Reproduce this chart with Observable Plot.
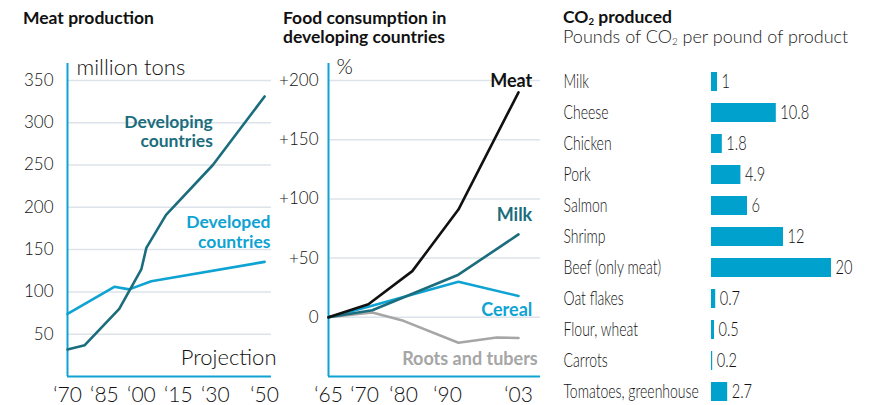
<!DOCTYPE html>
<html><head><meta charset="utf-8">
<script src="https://cdn.jsdelivr.net/npm/d3@7"></script>
<script src="https://cdn.jsdelivr.net/npm/@observablehq/plot@0.6"></script>
<style>
body{margin:0;background:#fff;}
#root{position:relative;width:872px;height:405px;overflow:hidden;font-family:Lato,"Open Sans",sans-serif;color:#111;}
.title{position:absolute;font-weight:700;font-size:17.5px;line-height:19px;white-space:nowrap;}
.sub{position:absolute;font-weight:300;font-size:18px;line-height:18px;white-space:nowrap;color:#222;}
.title sub,.sub sub{font-size:0.55em;vertical-align:-0.25em;line-height:0;}
</style></head><body><div id="root">
<div class="title" style="left:23px;top:8px;">Meat production</div>
<div class="title" style="left:283px;top:8px;">Food consumption in<br>developing countries</div>
<div class="title" style="left:563px;top:7px;">CO<sub>2</sub> produced</div>
<div class="sub" style="left:563px;top:27px;">Pounds of CO<sub>2</sub> per pound of product</div>
</div>
<script>
// ---- Panel 1: Meat production (million tons)
const developingYears = [1970, 1977, 1991, 2000, 2002, 2010, 2029, 2050];
const developingValues = [32, 37, 80, 127, 152, 191, 250, 331];
const developedYears = [1970, 1989, 1995, 2004, 2050];
const developedValues = [74, 106, 103, 112.5, 135.5];
const productionTicks = [50, 100, 150, 200, 250, 300, 350];
const productionYearTicks = [1970, 1985, 2000, 2015, 2030, 2050];

// ---- Panel 2: Food consumption in developing countries (% change)
const meatYears = [1965, 1971, 1982, 1992, 2003];
const meatValues = [0, 11, 39, 91, 190];
const milkYears = [1965, 1972, 1992, 2003];
const milkValues = [0, 6, 36, 70];
const cerealYears = [1965, 1971, 1992, 2003];
const cerealValues = [0, 9, 30, 18];
const rootsYears = [1965, 1972, 1980, 1992, 1999, 2003];
const rootsValues = [0, 4, -3, -21.5, -17, -17.5];
const consumptionTicks = [0, 50, 100, 150, 200];
const consumptionYearTicks = [1965, 1970, 1980, 1990, 2003];

// ---- Panel 3: CO2 produced
const products = ["Milk", "Cheese", "Chicken", "Pork", "Salmon", "Shrimp", "Beef (only meat)", "Oat flakes", "Flour, wheat", "Carrots", "Tomatoes, greenhouse"];
const co2 = [1, 10.8, 1.8, 4.9, 6, 12, 20, 0.7, 0.5, 0.2, 2.7];

const TEAL = "#1b6d7d", CYAN = "#0ea3d2", GRID = "#dce3ea", BAR = "#00a1cc", GRAY = "#a6a6a6";
const zip = (xs, ys, series) => xs.map((x, i) => ({year: x, value: ys[i], series}));
const yearFmt = d => "\u2018" + String(Math.round(d)).slice(2);
const root = document.getElementById("root");
const place = (el, left) => { el.style.position = "absolute"; el.style.left = left + "px"; el.style.top = "0px"; root.appendChild(el); };
const baseStyle = {fontFamily: "Lato, 'Open Sans', sans-serif", color: "#222", background: "transparent", overflow: "visible"};

// Panel 1
const developing = zip(developingYears, developingValues, "Developing");
const developed = zip(developedYears, developedValues, "Developed");
const p1 = Plot.plot({
  width: 290, height: 405, marginLeft: 67, marginRight: 19, marginTop: 63, marginBottom: 29,
  style: baseStyle,
  x: {domain: [1970, 2052.8]},
  y: {domain: [0, 370]},
  marks: [
    Plot.ruleY(productionTicks, {stroke: GRID, strokeWidth: 1.5}),
    Plot.axisY(productionTicks, {tickSize: 0, tickPadding: 14, fontSize: 17, fontWeight: 300, label: null, fill: "#111"}),
    Plot.axisX(productionYearTicks, {tickSize: 0, tickPadding: 11, fontSize: 21, fontWeight: 300, tickFormat: yearFmt, label: null, fill: "#111"}),
    Plot.ruleX([1970], {stroke: CYAN, strokeWidth: 2}),
    Plot.ruleY([0], {stroke: CYAN, strokeWidth: 2}),
    Plot.line(developed, {x: "year", y: "value", stroke: CYAN, strokeWidth: 2.6}),
    Plot.line(developing, {x: "year", y: "value", stroke: TEAL, strokeWidth: 2.6}),
    Plot.text(["million tons"], {frameAnchor: "top-left", dx: 9, dy: 4, textAnchor: "start", lineAnchor: "middle", fontSize: 22, fontWeight: 300, fill: "#111"}),
    Plot.text(["Projection"], {frameAnchor: "bottom-right", dx: 5, dy: -19, textAnchor: "end", lineAnchor: "middle", fontSize: 22, fontWeight: 300, fill: "#111"}),
    Plot.text(["Developing\ncountries"], {x: 2029, y: 290, textAnchor: "end", lineAnchor: "middle", lineHeight: 1.1, fontSize: 17.5, fontWeight: 700, fill: TEAL}),
    Plot.text(["Developed\ncountries"], {x: 2052.4, y: 171, textAnchor: "end", lineAnchor: "middle", lineHeight: 1.1, fontSize: 17.5, fontWeight: 700, fill: CYAN})
  ]
});
place(p1, 0);

// Panel 2: the original's time axis is spaced unevenly, so years are mapped
// onto a piecewise-linear axis position before Plot's linear x scale.
const yearAxis = d3.scaleLinear().domain([1965, 1970, 1980, 1990, 2003, 2007]).range([0, 36, 75, 119, 190, 212]);
const consumption = [
  ...zip(rootsYears, rootsValues, "Roots and tubers"),
  ...zip(cerealYears, cerealValues, "Cereal"),
  ...zip(milkYears, milkValues, "Milk"),
  ...zip(meatYears, meatValues, "Meat")
];
const colors2 = {"Meat": "#111", "Milk": TEAL, "Cereal": CYAN, "Roots and tubers": GRAY};
const p2 = Plot.plot({
  width: 280, height: 405, marginLeft: 58, marginRight: 10, marginTop: 63, marginBottom: 29,
  style: baseStyle,
  x: {domain: [yearAxis(1965), yearAxis(2007)]},
  y: {domain: [-50, 214.4]},
  marks: [
    Plot.ruleY(consumptionTicks, {stroke: GRID, strokeWidth: 1.5}),
    Plot.axisY(consumptionTicks, {tickSize: 0, tickPadding: 10, fontSize: 17, fontWeight: 300, tickFormat: d => d > 0 ? "+" + d : String(d), label: null, fill: "#111"}),
    Plot.axisX(consumptionYearTicks.map(yearAxis), {tickSize: 0, tickPadding: 11, fontSize: 21, fontWeight: 300, tickFormat: v => yearFmt(yearAxis.invert(v)), label: null, fill: "#111"}),
    Plot.ruleX([yearAxis(1965)], {stroke: CYAN, strokeWidth: 2}),
    Plot.ruleY([-50], {stroke: CYAN, strokeWidth: 2}),
    Plot.line(consumption, {x: d => yearAxis(d.year), y: "value", z: "series", stroke: d => colors2[d.series], strokeWidth: 2.6}),
    Plot.text(["%"], {frameAnchor: "top-left", dx: 8, dy: 4, textAnchor: "start", lineAnchor: "middle", fontSize: 21, fontWeight: 300, fill: "#111"}),
    Plot.text(["Meat"], {x: yearAxis(2005.5), y: 199, textAnchor: "end", lineAnchor: "middle", fontSize: 18, fontWeight: 700, fill: "#111"}),
    Plot.text(["Milk"], {x: yearAxis(2005.5), y: 86, textAnchor: "end", lineAnchor: "middle", fontSize: 18, fontWeight: 700, fill: TEAL}),
    Plot.text(["Cereal"], {x: yearAxis(2005.5), y: 5.7, textAnchor: "end", lineAnchor: "middle", fontSize: 18, fontWeight: 700, fill: CYAN}),
    Plot.text(["Roots and tubers"], {x: yearAxis(2006.5), y: -35.6, textAnchor: "end", lineAnchor: "middle", fontSize: 18, fontWeight: 700, fill: GRAY})
  ]
});
place(p2, 270);

// Panel 3
const co2Data = products.map((p, i) => ({product: p, value: co2[i]}));
const p3 = Plot.plot({
  width: 322, height: 405, marginLeft: 161, marginRight: 41, marginTop: 70.5, marginBottom: 3.5,
  style: baseStyle,
  x: {domain: [0, 20], axis: null},
  y: {domain: products, paddingInner: 0.39, paddingOuter: 0},
  marks: [
    Plot.axisY({tickSize: 0, tickPadding: 148, textAnchor: "start", fontSize: 20, fontWeight: 300, label: null, fill: "#111"}),
    Plot.barX(co2Data, {x: "value", y: "product", fill: BAR}),
    Plot.text(co2Data, {x: "value", y: "product", text: d => String(d.value), dx: 4, textAnchor: "start", fontSize: 20, fontWeight: 300, fill: "#111"})
  ]
});
place(p3, 550);
// The original uses a condensed typeface; compress the glyphs of panel 3's labels.
p3.querySelectorAll("text").forEach(t => {
  const w = t.getComputedTextLength();
  if (w > 0) {
    const g = t.closest("g[aria-label]");
    const isAxis = g && /y-axis/.test(g.getAttribute("aria-label"));
    t.setAttribute("textLength", (w * (isAxis ? 0.70 : 0.73)).toFixed(1));
    t.setAttribute("lengthAdjust", "spacingAndGlyphs");
  }
});
</script>
</body></html>
